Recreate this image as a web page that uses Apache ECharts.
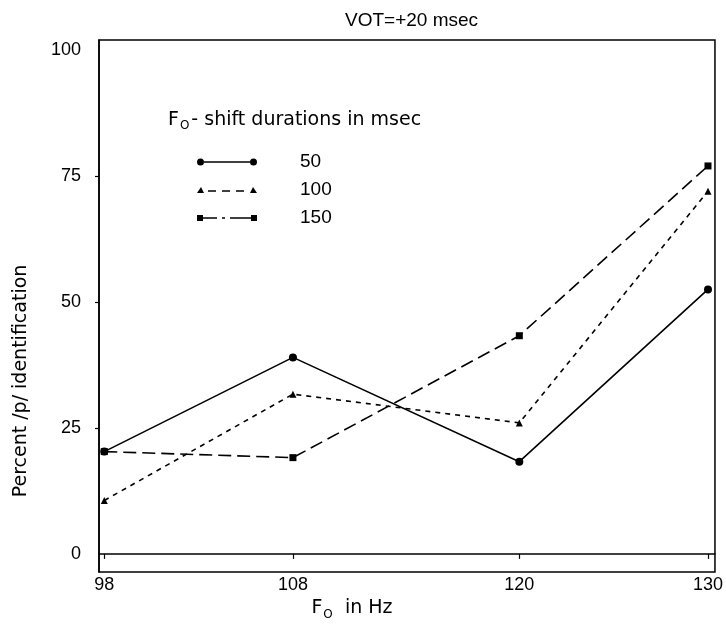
<!DOCTYPE html>
<html>
<head>
<meta charset="utf-8">
<script src="https://cdn.jsdelivr.net/npm/echarts@6/dist/echarts.min.js"></script>
<style>
  html, body { margin: 0; padding: 0; background: #fff; }
  #chart-container { width: 726px; height: 629px; }
</style>
</head>
<body>
<div id="chart-container"></div>
<script>
// F0 values (Hz) on the x axis
var hzValues = [98, 108, 120, 130];

// F0-shift durations (msec), one line each
var durations = ['50', '100', '150'];

// percent /p/ identification
var pct50 = [20.3, 39.0, 18.3, 52.5];
var pct100 = [10.6, 31.7, 26.0, 72.0];
var pct150 = [20.3, 19.1, 43.3, 77.0];

// tick labels
var yLabels = [0, 25, 50, 75, 100];
var yTickMarks = [25, 50, 75];
var xLabels = [98, 108, 120, 130];

var font = 'Liberation Sans';
var wideFont = 'DejaVu Sans';

function pairs(vals) {
  return hzValues.map(function (hz, i) { return [hz, vals[i]]; });
}

// legend glyphs: marker at each end of a short line sample
var icons = {
  '50': 'path://M0,4a3.5,3.5 0 1,0 7,0a3.5,3.5 0 1,0 -7,0zM7,3.3h46v1.4h-46zM53,4a3.5,3.5 0 1,0 7,0a3.5,3.5 0 1,0 -7,0z',
  '100': 'path://M0,7L4,1L7,7zM11,4.3h8v1.4h-8zM25,4.3h8v1.4h-8zM39,4.3h8v1.4h-8zM53,7L56,1L60,7z',
  '150': 'path://M0,1h6v6h-6zM6,3.3h14v1.4h-14zM25,3.3h3v1.4h-3zM33,3.3h21v1.4h-21zM54,1h6v6h-6z'
};

var chart = echarts.init(document.getElementById('chart-container'));

var options = {
  backgroundColor: '#fff',
  animation: false,
  textStyle: { fontFamily: font, color: '#000' },
  title: [
    {
      text: 'VOT=+20 msec',
      left: 340, top: 6,
      textStyle: { fontFamily: font, fontSize: 19, fontWeight: 'normal', color: '#000' }
    },
    {
      text: '{a|F}{s|O}{a|- shift durations in msec}',
      left: 163, top: 103,
      textStyle: {
        fontWeight: 'normal',
        rich: {
          a: { fontFamily: wideFont, fontSize: 19, fontWeight: 'normal', color: '#000' },
          s: { fontFamily: wideFont, fontSize: 12, fontWeight: 'normal', color: '#000', padding: [12, 2, 0, 1] }
        }
      }
    }
  ],
  legend: {
    orient: 'vertical',
    left: 192, top: 147,
    itemWidth: 60, itemHeight: 8,
    itemGap: 8,
    data: durations.map(function (d) { return { name: d, icon: icons[d] }; }),
    itemStyle: { color: '#000' },
    textStyle: { fontFamily: font, fontSize: 19, color: '#000', lineHeight: 20, padding: [0, 0, 0, 38] }
  },
  grid: {
    left: 99, right: 9, top: 40, bottom: 57,
    show: true, borderColor: '#000', borderWidth: 1.5
  },
  xAxis: {
    type: 'value',
    min: 97.72, max: 130.37,
    name: '{a|F}{s|O}{a|  in Hz}',
    nameLocation: 'middle',
    nameGap: 24,
    nameTextStyle: {
      padding: [0, 110, 0, 0],
      rich: {
        a: { fontFamily: wideFont, fontSize: 19, color: '#000' },
        s: { fontFamily: wideFont, fontSize: 12, color: '#000', padding: [12, 0, 0, 1] }
      }
    },
    splitLine: { show: false },
    axisLine: { lineStyle: { color: '#000', width: 1.5 } },
    axisTick: { customValues: xLabels, length: 5, lineStyle: { color: '#000', width: 1.2 } },
    axisLabel: { customValues: xLabels, margin: 4, fontFamily: font, fontSize: 18, color: '#000' }
  },
  yAxis: {
    type: 'value',
    min: -3.6, max: 102,
    name: 'Percent /p/ identification',
    nameLocation: 'middle',
    nameRotate: 90,
    nameGap: 68,
    nameTextStyle: { fontFamily: wideFont, fontSize: 19, color: '#000', padding: [0, 150, 0, 0] },
    splitLine: { show: false },
    axisLine: { lineStyle: { color: '#000', width: 1.5 } },
    axisTick: { customValues: yTickMarks, length: 4, lineStyle: { color: '#000', width: 1.2 } },
    axisLabel: { customValues: yLabels, margin: 18, fontFamily: font, fontSize: 18, color: '#000' }
  },
  series: [
    {
      name: '50', type: 'line', data: pairs(pct50),
      symbol: 'circle', symbolSize: 8,
      itemStyle: { color: '#000' },
      lineStyle: { color: '#000', width: 1.6, type: 'solid' }
    },
    {
      name: '100', type: 'line', data: pairs(pct100),
      symbol: 'triangle', symbolSize: 7,
      itemStyle: { color: '#000' },
      lineStyle: { color: '#000', width: 1.6, type: [5, 5] }
    },
    {
      name: '150', type: 'line', data: pairs(pct150),
      symbol: 'rect', symbolSize: 7,
      itemStyle: { color: '#000' },
      lineStyle: { color: '#000', width: 1.6, type: [13, 6] }
    }
  ]
};

chart.setOption(options);
</script>
</body>
</html>
